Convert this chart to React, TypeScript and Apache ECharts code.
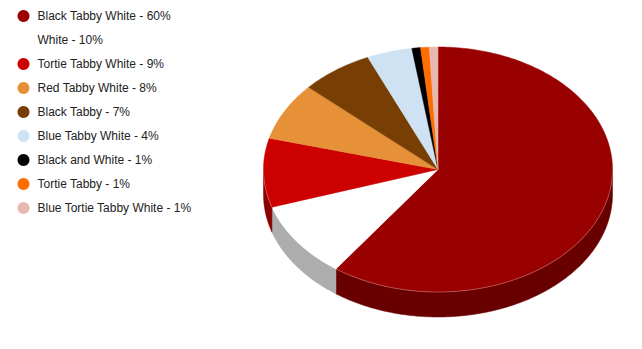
import React, { useEffect, useRef } from "react";
import * as echarts from "echarts";

const categories = [
  "Black Tabby White",
  "White",
  "Tortie Tabby White",
  "Red Tabby White",
  "Black Tabby",
  "Blue Tabby White",
  "Black and White",
  "Tortie Tabby",
  "Blue Tortie Tabby White",
];
const values = [60, 10.1, 9.1, 7.6, 6.7, 4.2, 0.8, 0.8, 0.8];
const topColors = [
  "#990000",
  "#ffffff",
  "#cc0000",
  "#e69138",
  "#783f04",
  "#cfe2f3",
  "#000000",
  "#ff6d01",
  "#e6b8af",
];

function darken(hex: string, f: number): string {
  const n = parseInt(hex.slice(1), 16);
  const r = Math.round(((n >> 16) & 255) * f);
  const g = Math.round(((n >> 8) & 255) * f);
  const b = Math.round((n & 255) * f);
  return "rgb(" + r + "," + g + "," + b + ")";
}

export default function App() {
  const ref = useRef<HTMLDivElement>(null);
  useEffect(() => {
    if (!ref.current) return;
    const chart = echarts.init(ref.current, undefined, { renderer: "svg" });
    const total = values.reduce((a, b) => a + b, 0);
    const starts: number[] = [];
    const ends: number[] = [];
    let acc = 0;
    values.forEach((v) => {
      starts.push((acc / total) * 360);
      acc += v;
      ends.push((acc / total) * 360);
    });
    const pct: Record<string, number> = {};
    categories.forEach((c, i) => (pct[c] = Math.round((values[i] / total) * 100)));

    const cx = 438, cy = 169.5, rx = 174.5, ry = 122.5, depth = 25;
    const pt = (deg: number, dy = 0): number[] => {
      const t = (deg * Math.PI) / 180;
      return [cx + rx * Math.sin(t), cy - ry * Math.cos(t) + dy];
    };
    const arcPts = (a: number, b: number, dy = 0): number[][] => {
      const out: number[][] = [];
      const n = Math.max(2, Math.ceil((b - a) / 1));
      for (let k = 0; k <= n; k++) out.push(pt(a + ((b - a) * k) / n, dy));
      return out;
    };

    const series = categories.map((name, i) => ({
      type: "custom",
      name,
      coordinateSystem: "none",
      silent: true,
      itemStyle: { color: topColors[i] },
      data: [[values[i]]],
      renderItem: () => {
        const a = starts[i], b = ends[i];
        const children: any[] = [];
        const s = Math.max(a, 90), e = Math.min(b, 270);
        if (e > s) {
          const top = arcPts(s, e);
          const bot = arcPts(s, e, depth).reverse();
          children.push({
            type: "polygon",
            shape: { points: top.concat(bot) },
            style: { fill: darken(topColors[i], 0.68), stroke: darken(topColors[i], 0.68), lineWidth: 0.5 },
          });
        }
        const face = [[cx, cy]].concat(arcPts(a, b));
        children.push({
          type: "polygon",
          shape: { points: face },
          style: { fill: topColors[i], stroke: topColors[i], lineWidth: 0.5 },
        });
        if (e > s && i !== 1) {
          children.push({
            type: "polyline",
            shape: { points: arcPts(s, e) },
            style: { stroke: "rgba(255,200,200,0.35)", lineWidth: 1, fill: "none" },
          });
        }
        return { type: "group", children };
      },
    }));

    chart.setOption({
      animation: false,
      legend: {
        orient: "vertical",
        left: 12.5,
        top: 5,
        itemWidth: 18,
        itemHeight: 12,
        itemGap: 12,
        icon: "circle",
        selectedMode: false,
        data: categories,
        formatter: (name: string) => name + " - " + pct[name] + "%",
        textStyle: { fontFamily: "Liberation Sans, Arial, sans-serif", fontSize: 12, color: "#222" },
      },
      series,
    } as any);
    return () => chart.dispose();
  }, []);
  return (
    <div
      ref={ref}
      style={{ position: "absolute", left: 0, top: 0, width: 642, height: 349, background: "#fff" }}
    />
  );
}
